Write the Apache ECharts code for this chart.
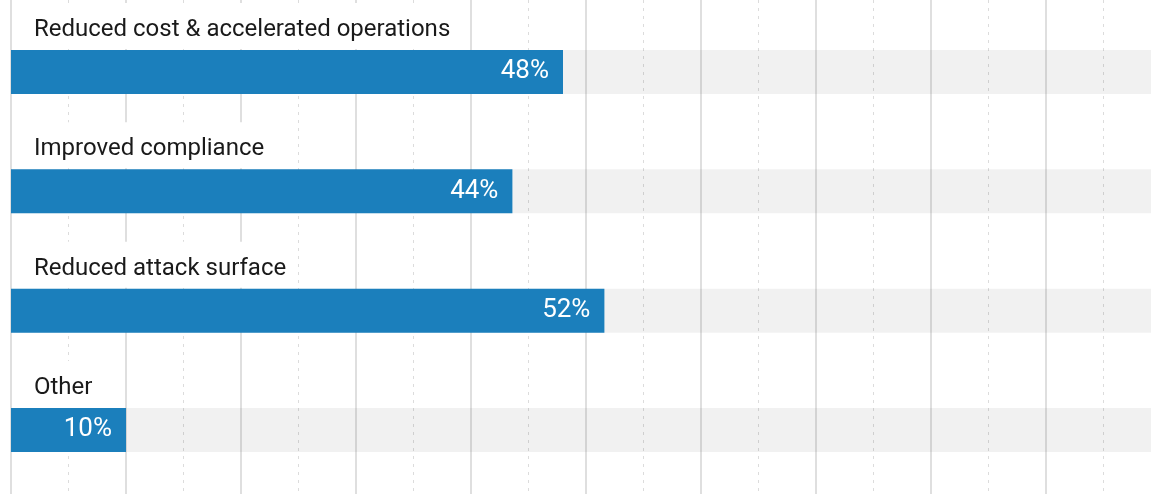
<!DOCTYPE html>
<html>
<head>
<meta charset="utf-8">
<script src="https://cdn.jsdelivr.net/npm/echarts@6/dist/echarts.min.js"></script>
<style>
  html, body { margin: 0; padding: 0; background: #fff; overflow: hidden; }
  /* the 100% end of the scale sits a little past the right edge of the window */
  #chart { width: 1161px; height: 494px; }
</style>
</head>
<body>
<div id="chart"></div>
<script>
var categories = ['Reduced cost & accelerated operations', 'Improved compliance', 'Reduced attack surface', 'Other'];
var values = [48, 43.6, 51.6, 10];
var fullScale = [100, 100, 100, 100];

var chart = echarts.init(document.getElementById('chart'));

var option = {
    animation: false,
    textStyle: { fontFamily: 'Roboto' },
    grid: [
        // only draws the grid lines, full height
        { left: 11, right: 0, top: 0, bottom: 0 },
        // bars
        { left: 11, right: 0, top: 12.33, height: 477.33 }
    ],
    xAxis: [{
        gridIndex: 0,
        type: 'value',
        min: 0,
        max: 100,
        interval: 10,
        axisLine: { show: false },
        axisTick: { show: false },
        axisLabel: { show: false },
        splitLine: { show: true, lineStyle: { color: '#d4d4d4', width: 1.5 } },
        minorTick: { show: false, splitNumber: 2 },
        minorSplitLine: { show: true, lineStyle: { color: '#dcdcdc', width: 1, type: [3, 5] } }
    }, {
        gridIndex: 1,
        type: 'value',
        min: 0,
        max: 100,
        show: false,
        splitLine: { show: false }
    }],
    yAxis: [{
        gridIndex: 0,
        type: 'value',
        min: 0,
        max: 1,
        show: false,
        splitLine: { show: false }
    }, {
        gridIndex: 1,
        type: 'category',
        data: categories,
        inverse: true,
        show: false
    }],
    series: [{
        name: 'bg',
        type: 'bar',
        xAxisIndex: 1,
        yAxisIndex: 1,
        data: fullScale,
        barWidth: 44,
        barGap: '-100%',
        itemStyle: { color: 'rgba(0,0,0,0.055)' },
        silent: true,
        label: {
            show: true,
            position: [2, -47],
            align: 'left',
            verticalAlign: 'top',
            formatter: function (p) { return categories[p.dataIndex]; },
            fontSize: 24,
            lineHeight: 28,
            color: '#1a1a1a',
            backgroundColor: '#ffffff',
            padding: [13, 10, 5, 21]
        }
    }, {
        name: 'value',
        type: 'bar',
        xAxisIndex: 1,
        yAxisIndex: 1,
        data: values,
        barWidth: 44,
        barGap: '-100%',
        itemStyle: { color: '#1b7fbc' },
        label: {
            show: true,
            position: 'insideRight',
            distance: 14,
            fontSize: 26,
            color: '#ffffff',
            formatter: function (p) { return Math.round(p.value) + '%'; }
        }
    }]
};
chart.setOption(option);
</script>
</body>
</html>
